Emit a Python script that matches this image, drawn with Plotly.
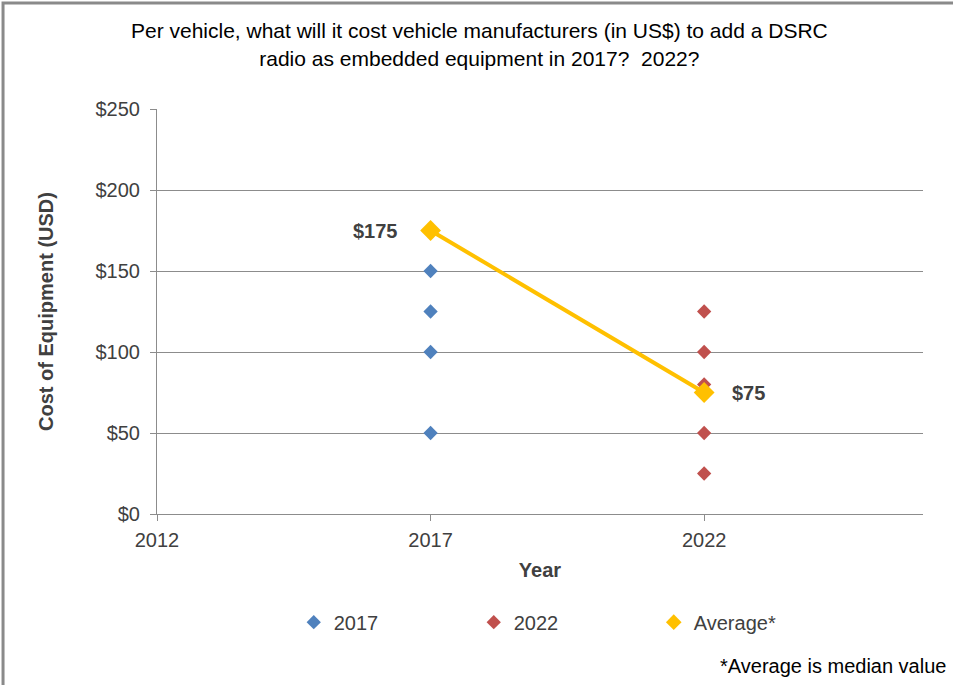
import plotly.graph_objects as go

# survey responses (US$) per target year
years_2017 = [2017, 2017, 2017, 2017]
cost_2017 = [150, 125, 100, 50]
years_2022 = [2022, 2022, 2022, 2022, 2022]
cost_2022 = [125, 100, 80, 50, 25]

# median ("Average*") line
avg_years = [2017, 2022]
avg_cost = [175, 75]
avg_labels = ["$175", "$75"]

FONT = "Liberation Sans, Arial, sans-serif"
GRID = "#8c8c8c"
TXT = "#404040"
GOLD = "#FFC000"

fig = go.Figure()

fig.add_trace(go.Scatter(
    x=years_2017, y=cost_2017, mode="markers", name="2017",
    marker=dict(symbol="diamond", size=11, color="#4F81BD"),
))
fig.add_trace(go.Scatter(
    x=years_2022, y=cost_2022, mode="markers", name="2022",
    marker=dict(symbol="diamond", size=11, color="#C0504D"),
))
fig.add_trace(go.Scatter(
    x=avg_years, y=avg_cost, mode="lines+markers", name="Average*",
    line=dict(color=GOLD, width=4),
    marker=dict(symbol="diamond", size=16, color=GOLD),
    showlegend=False,
))
# legend entry for the median: marker only, like the original
fig.add_trace(go.Scatter(
    x=[None], y=[None], mode="markers", name="Average*",
    marker=dict(symbol="diamond", size=12, color=GOLD),
))

# data labels for the median points
for xv, yv, lab, shift in zip(avg_years, avg_cost, avg_labels, [-55, 44]):
    fig.add_annotation(
        x=xv, y=yv, text=f"<b>{lab}</b>", showarrow=False,
        xshift=shift, font=dict(size=20, color=TXT, family=FONT),
    )

fig.add_annotation(
    xref="paper", yref="paper", x=1.032, y=-0.408, xanchor="right",
    text="*Average is median value", showarrow=False,
    font=dict(size=20, color="black", family=FONT),
)

# outer frame (only top/left edges are visible in the crop)
fig.add_shape(
    type="rect", xref="paper", yref="paper",
    x0=-0.201, x1=1.2, y0=-0.6, y1=1.262,
    line=dict(color="#8a8a8a", width=3), layer="below",
)

fig.update_layout(
    width=953, height=685,
    margin=dict(l=157, r=30, t=109, b=171),
    paper_bgcolor="white", plot_bgcolor="white",
    font=dict(family=FONT, color=TXT, size=20),
    title=dict(
        text="Per vehicle, what will it cost vehicle manufacturers (in US$) to add a DSRC<br>"
             "radio as embedded equipment in 2017?  2022?",
        x=0.503, xanchor="center", y=0.944, yanchor="middle",
        font=dict(size=21, color="black", family=FONT),
    ),
    xaxis=dict(
        range=[2012, 2026], tickvals=[2012, 2017, 2022],
        showgrid=False, zeroline=False,
        showline=True, linecolor=GRID, linewidth=1,
        ticks="outside", ticklen=6, tickcolor=GRID, ticklabelstandoff=2,
        tickfont=dict(size=20, color=TXT),
        title=dict(text="<b>Year</b>", font=dict(size=20, color=TXT), standoff=12),
    ),
    yaxis=dict(
        range=[0, 250], dtick=50, tickprefix="$",
        showgrid=True, gridcolor=GRID, gridwidth=1, zeroline=False,
        showline=True, linecolor=GRID, linewidth=1,
        ticks="outside", ticklen=6, tickcolor=GRID, ticklabelstandoff=6,
        tickfont=dict(size=20, color=TXT),
        title=dict(text="<b>Cost of Equipment (USD)</b>", font=dict(size=20, color=TXT), standoff=36),
    ),
    legend=dict(
        orientation="h", x=0.531, xanchor="center", y=-0.267, yanchor="middle",
        font=dict(size=20, color=TXT), entrywidth=135, itemwidth=30,
    ),
    showlegend=True,
)

fig.write_html("out.html", config={"displayModeBar": False},
               post_script="document.body.style.margin='0';")
